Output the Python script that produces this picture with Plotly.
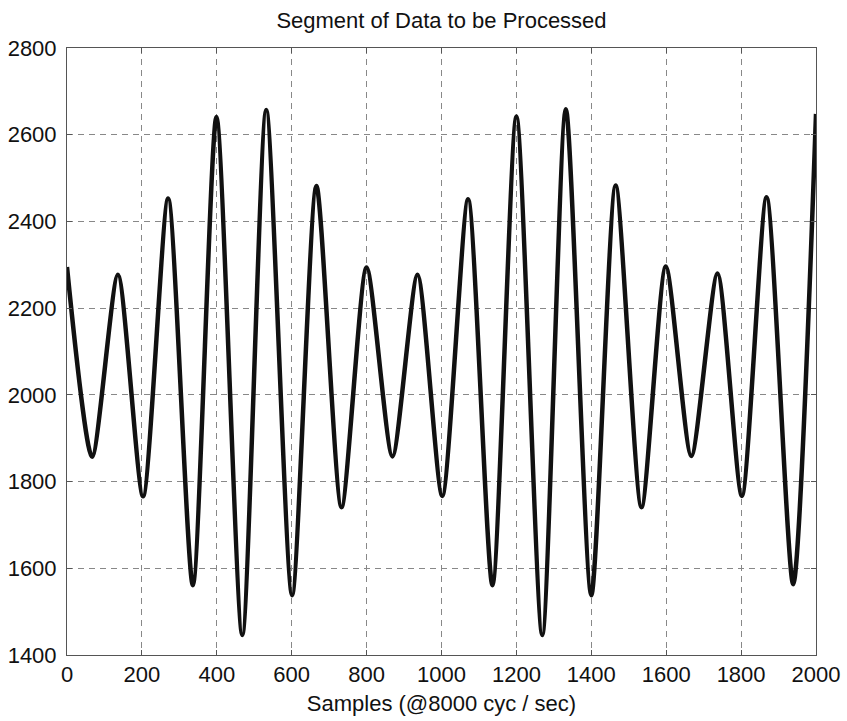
import plotly.graph_objects as go

# Extrema (sample index, amplitude)
samples = [0, 67, 136, 203, 270, 336, 399, 468, 532, 601, 666, 733, 800, 869,
           936, 1002, 1071, 1136, 1200, 1269, 1332, 1400, 1465, 1534, 1599,
           1667, 1737, 1802, 1868, 1939, 2000]
values = [2295, 1857, 2277, 1766, 2453, 1561, 2641, 1446, 2657, 1538, 2482,
          1741, 2294, 1858, 2277, 1767, 2451, 1561, 2642, 1446, 2659, 1538,
          2483, 1741, 2296, 1859, 2280, 1767, 2456, 1563, 2648]

x_ticks = [0, 200, 400, 600, 800, 1000, 1200, 1400, 1600, 1800, 2000]
y_ticks = [1400, 1600, 1800, 2000, 2200, 2400, 2600, 2800]

FONT = "Liberation Sans, Arial, Helvetica, sans-serif"

fig = go.Figure()
fig.add_trace(go.Scatter(
    x=samples, y=values, mode="lines",
    line=dict(color="#111111", width=4.5, shape="spline", smoothing=0.7),
    showlegend=False, hoverinfo="skip",
))

axis_common = dict(
    showline=True, linecolor="#555555", linewidth=1, mirror="ticks",
    ticks="inside", ticklen=5, tickcolor="#555555", tickwidth=1,
    showgrid=True, gridcolor="#888888", gridwidth=1, griddash="6px,5px",
    zeroline=False, automargin=False,
    tickfont=dict(family=FONT, size=22, color="#111111"),
)

fig.update_xaxes(range=[0, 2000], tickvals=x_ticks, **axis_common,
                 title=dict(text="Samples (@8000 cyc / sec)",
                            font=dict(family=FONT, size=22, color="#111111"),
                            standoff=9))
fig.update_yaxes(range=[1400, 2800], tickvals=y_ticks, **axis_common,
                 ticklabelstandoff=5)

fig.update_layout(
    width=847, height=721,
    margin=dict(l=67, r=31, t=48, b=66),
    paper_bgcolor="white", plot_bgcolor="white",
    title=dict(text="Segment of Data to be Processed",
               font=dict(family=FONT, size=22, color="#111111"),
               x=(67 + 816) / 2 / 847, xanchor="center",
               y=1 - 20 / 721, yanchor="middle"),
)

fig.write_html("out.html")
